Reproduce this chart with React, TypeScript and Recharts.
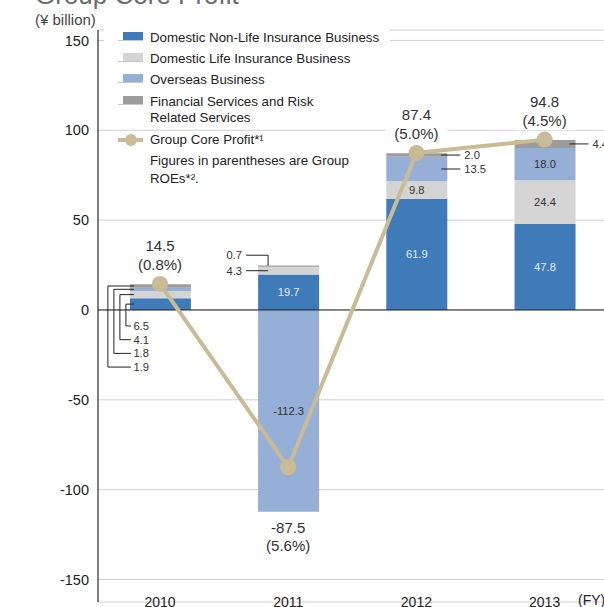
import React from 'react';
import { ComposedChart, Bar, Line, XAxis, YAxis, CartesianGrid, ReferenceLine, LabelList } from 'recharts';

const years = ['2010', '2011', '2012', '2013'];
const nonLife = [6.5, 19.7, 61.9, 47.8];
const life = [4.1, 4.3, 9.8, 24.4];
const overseas = [1.8, -112.3, 13.5, 18.0];
const financial = [1.9, 0.7, 2.0, 4.4];
const coreProfit = [14.5, -87.5, 87.4, 94.8];
const roe = [0.8, 5.6, 5.0, 4.5];
const yTicks = [-150, -100, -50, 0, 50, 100, 150];

const data = years.map((year, i) => ({
  x: i,
  year,
  nonLife: nonLife[i],
  life: life[i],
  overseas: overseas[i],
  financial: financial[i],
  core: coreProfit[i],
}));

const FONT = '"Liberation Sans", Arial, Helvetica, sans-serif';
const INK = '#333';
const TAN = '#c9bb96';

const SERIES = [
  { key: 'nonLife', name: 'Domestic Non-Life Insurance Business', color: '#3f7bb9', ink: '#e3ebf5' },
  { key: 'life', name: 'Domestic Life Insurance Business', color: '#d4d4d4', ink: INK },
  { key: 'overseas', name: 'Overseas Business', color: '#95afd7', ink: INK },
  { key: 'financial', name: 'Financial Services and Risk\nRelated Services', color: '#9c9c9c', ink: INK },
];

// small segments get a leader line instead of an inside label (year index - series index)
const CALLOUT: Record<string, string> = {
  '0-0': 'fan', '0-1': 'fan', '0-2': 'fan', '0-3': 'fan',
  '1-1': 'left', '1-3': 'leftUp',
  '2-2': 'right', '2-3': 'right',
  '3-3': 'right',
};

const segmentLabel = (s: number) => (props: any) => {
  const vb = props.viewBox ?? props;
  const idx: number = props.index;
  const v = Number(props.value);
  if (!vb || !Number.isFinite(v)) return null;
  const left = vb.x;
  const w = vb.width;
  const right = left + w;
  const top = Math.min(vb.y, vb.y + vb.height);
  const h = Math.abs(vb.height);
  const cy = top + h / 2;
  const txt = v.toFixed(1);
  const mode = CALLOUT[`${idx}-${s}`];
  const textProps = { fontSize: 11.2, fontFamily: FONT, fill: INK, dy: '0.36em' };

  if (!mode) {
    return (
      <text x={left + w / 2} y={cy} textAnchor="middle" {...textProps} fill={SERIES[s].ink}>
        {txt}
      </text>
    );
  }
  if (mode === 'right') {
    return (
      <g>
        <line x1={right - 6} x2={right + 13} y1={cy} y2={cy} stroke="#222" />
        <text x={right + 17} y={cy} {...textProps}>{txt}</text>
      </g>
    );
  }
  if (mode === 'left') {
    return (
      <g>
        <line x1={left - 12} x2={left + 10} y1={cy} y2={cy} stroke="#222" />
        <text x={left - 16} y={cy} textAnchor="end" {...textProps}>{txt}</text>
      </g>
    );
  }
  if (mode === 'leftUp') {
    const ly = cy - 11;
    return (
      <g>
        <polyline points={`${left - 12},${ly} ${left + 10},${ly} ${left + 10},${top}`} fill="none" stroke="#222" />
        <text x={left - 16} y={ly} textAnchor="end" {...textProps}>{txt}</text>
      </g>
    );
  }
  // fan: staggered elbows down the left side of the bar
  const ppu = h / Math.abs(v);
  const below = SERIES.slice(0, s).reduce((a, ss) => a + (data[idx] as any)[ss.key], 0);
  const zeroY = top + h + below * ppu;
  const vx = left - 4 - 6 * s;
  const ly = zeroY + 16 + 13.7 * s;
  return (
    <g>
      <polyline points={`${left + 4},${cy} ${vx},${cy} ${vx},${ly} ${left + 1},${ly}`} fill="none" stroke="#222" />
      <text x={left + 3.5} y={ly} {...textProps}>{txt}</text>
    </g>
  );
};

const coreLabel = (props: any) => {
  const vb = props.viewBox ?? {};
  const x = vb.x ?? props.x;
  const y = vb.y ?? props.y;
  const i: number = props.index;
  if (x == null || y == null) return null;
  const v = coreProfit[i];
  const y1 = v < 0 ? y + 60 : y - 38;
  const y2 = y1 + 18.5;
  const tp = { fontSize: 15, fontFamily: FONT, fill: INK, textAnchor: 'middle' as const, dy: '0.36em' };
  return (
    <g>
      <rect x={x - 31} y={y1 - 10} width={62} height={y2 - y1 + 20} fill="#fff" />
      <text x={x} y={y1} {...tp}>{v.toFixed(1)}</text>
      <text x={x} y={y2} {...tp}>({roe[i].toFixed(1)}%)</text>
    </g>
  );
};

const YearTick = (props: any) => {
  const { x, y, payload } = props;
  return (
    <text x={x} y={y + 5} textAnchor="middle" fontSize={14} fontFamily={FONT} fill="#222">
      {years[payload.value]}
    </text>
  );
};

const legendRows = [38.3, 59.3, 80, 102.3];

const LegendOverlay = () => (
  <>
    <div style={{ position: 'absolute', left: 104, top: 28, width: 286, height: 96, background: '#fff' }} />
    {SERIES.map((s, i) => (
      <React.Fragment key={s.key}>
        <div style={{ position: 'absolute', left: 118, top: legendRows[i] + 2, width: 25, height: 1, background: '#c8c8c8' }} />
        <div style={{ position: 'absolute', left: 123, top: legendRows[i] - 6, width: 20, height: 8, background: s.color }} />
        <div style={{ position: 'absolute', left: 150, top: legendRows[i] - 8, fontSize: 13.3, lineHeight: '16px', color: '#222', whiteSpace: 'pre' }}>
          {s.name}
        </div>
      </React.Fragment>
    ))}
    <div style={{ position: 'absolute', left: 118, top: 138, width: 25, height: 4, background: TAN }} />
    <div style={{ position: 'absolute', left: 124.5, top: 134, width: 12, height: 12, borderRadius: 6, background: TAN }} />
    <div style={{ position: 'absolute', left: 150, top: 132, fontSize: 13.3, lineHeight: '16px', color: '#222' }}>
      Group Core Profit*¹
    </div>
    <div style={{ position: 'absolute', left: 150, top: 152, fontSize: 13.3, lineHeight: '18px', color: '#222' }}>
      Figures in parentheses are Group
      <br />
      ROEs*².
    </div>
  </>
);

const App: React.FC = () => {
  return (
    <div style={{ position: 'absolute', left: 0, top: 0, width: 604, height: 607, overflow: 'hidden', background: '#fff', fontFamily: FONT }}>
      <div style={{ position: 'absolute', left: 0, top: 0 }}>
        <ComposedChart width={660} height={640} data={data} stackOffset="sign" margin={{ top: 30, right: 0, bottom: 0, left: 0 }}>
          <CartesianGrid vertical={false} stroke="#d0d0d0" />
          <XAxis
            type="number"
            dataKey="x"
            domain={[-0.4836, 3.9]}
            allowDataOverflow
            ticks={[0, 1, 2, 3]}
            axisLine={false}
            tickLine={false}
            tickSize={0}
            tickMargin={0}
            height={38}
            tick={<YearTick />}
          />
          <YAxis
            domain={[-162.5, 155.8]}
            allowDataOverflow
            ticks={yTicks}
            width={98}
            axisLine={{ stroke: '#000' }}
            tickLine={false}
            tickSize={0}
            tickMargin={9}
            tick={{ fontSize: 14.5, fill: '#222', fontFamily: FONT }}
          />
          {SERIES.map((s, i) => (
            <Bar key={s.key} dataKey={s.key} stackId="a" fill={s.color} barSize={61} isAnimationActive={false}>
              <LabelList dataKey={s.key} content={segmentLabel(i)} />
            </Bar>
          ))}
          <ReferenceLine y={0} stroke="#222" />
          <Line
            dataKey="core"
            stroke={TAN}
            strokeWidth={4}
            dot={{ r: 8, fill: TAN, stroke: 'none' }}
            isAnimationActive={false}
          >
            <LabelList dataKey="core" content={coreLabel} />
          </Line>
        </ComposedChart>
      </div>
      <div style={{ position: 'absolute', left: 35, top: -18, fontSize: 26, lineHeight: '26px', color: '#6b6b6b', whiteSpace: 'nowrap' }}>
        Group Core Profit
      </div>
      <div style={{ position: 'absolute', left: 35, top: 12, fontSize: 15, lineHeight: '15px', color: '#444' }}>(¥ billion)</div>
      <div style={{ position: 'absolute', left: 578, top: 593, fontSize: 14, lineHeight: '14px', color: '#222' }}>(FY)</div>
      <LegendOverlay />
    </div>
  );
};

export default App;
